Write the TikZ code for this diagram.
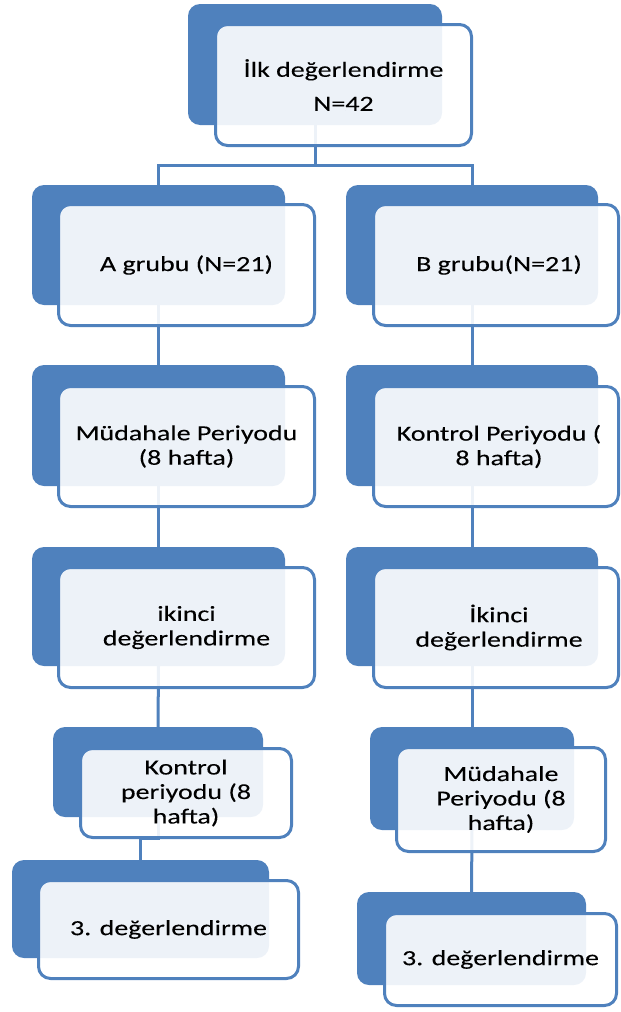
\documentclass[tikz,border=0pt]{standalone}
\usepackage{fontspec}
\setmainfont{Carlito}[FakeStretch=1.3,FakeBold=0.12]
\pgfdeclarelayer{background}
\pgfsetlayers{background,main}
\definecolor{myblue}{RGB}{79,129,189}
\begin{document}
\begin{tikzpicture}[x=1pt,y=-1pt,
  backbox/.style={fill=myblue, draw=none, rounded corners=12pt, inner sep=0pt, outer sep=0pt, anchor=north west},
  frontbox/.style={draw=myblue, line width=3pt, fill=white, fill opacity=0.9, text opacity=1, draw opacity=1,
    rounded corners=12pt, inner sep=0pt, outer sep=0pt, anchor=north west, align=center,
    font=\fontsize{21.5}{24.5}\selectfont, text=black},
  conn/.style={draw=myblue, line width=3pt}]
\useasboundingbox (0,0) rectangle (621,1012);
% back rectangles
\node[backbox, minimum width=254pt, minimum height=121pt] (tb) at (188,4) {};
\node[backbox, minimum width=253pt, minimum height=120pt] (ab) at (32,185) {};
\node[backbox, minimum width=252pt, minimum height=120pt] (bb) at (346,185) {};
\node[backbox, minimum width=253pt, minimum height=121pt] (r3lb) at (32,365) {};
\node[backbox, minimum width=252pt, minimum height=121pt] (r3rb) at (346,365) {};
\node[backbox, minimum width=253pt, minimum height=119pt] (r4lb) at (32,547) {};
\node[backbox, minimum width=252pt, minimum height=119pt] (r4rb) at (346,547) {};
\node[backbox, minimum width=210pt, minimum height=90pt] (r5lb) at (53,727) {};
\node[backbox, minimum width=204pt, minimum height=103pt] (r5rb) at (370,727) {};
\node[backbox, minimum width=257pt, minimum height=98pt] (r6lb) at (12,860) {};
\node[backbox, minimum width=229pt, minimum height=93pt] (r6rb) at (357,892) {};
% front boxes
\node[frontbox, minimum width=256pt, minimum height=121pt] (t) at (215.5,24.5) {İlk değerlendirme\\[9.5pt]N=42};
\node[frontbox, minimum width=256pt, minimum height=121pt] (a) at (58.5,204.5) {A grubu (N=21)};
\node[frontbox, minimum width=245pt, minimum height=121pt] (b) at (373.5,204.5) {\hspace*{6pt}B grubu(N=21)};
\node[frontbox, minimum width=256pt, minimum height=120pt] (r3l) at (58.5,386.5) {Müdahale Periyodu\\(8 hafta)};
\node[frontbox, minimum width=245pt, minimum height=120pt] (r3r) at (373.5,386.5) {\hspace*{6pt}Kontrol Periyodu (\\\hspace*{6pt}8 hafta)};
\node[frontbox, minimum width=256pt, minimum height=120pt] (r4l) at (58.5,567.5) {ikinci\\değerlendirme};
\node[frontbox, minimum width=245pt, minimum height=120pt] (r4r) at (373.5,567.5) {\hspace*{6pt}İkinci\\\hspace*{6pt}değerlendirme};
\node[frontbox, minimum width=211pt, minimum height=89pt] (r5l) at (80.5,748.5) {Kontrol\\periyodu (8\\hafta)};
\node[frontbox, minimum width=209pt, minimum height=104pt] (r5r) at (396.5,747.5) {Müdahale\\Periyodu (8\\hafta)};
\node[frontbox, minimum width=260pt, minimum height=98pt] (r6l) at (38.5,880.5) {3. değerlendirme};
\node[frontbox, minimum width=232pt, minimum height=92pt] (r6r) at (384.5,913.5) {3. değerlendirme};
% connectors
\begin{pgfonlayer}{background}
\coordinate (j) at (315,165);
\draw[conn] (tb.south) -- (j);
\draw[conn] (ab.north) |- (j) -| (bb.north);
\draw[conn] (ab.south) -- (r3lb.north);
\draw[conn] (bb.south) -- (r3rb.north);
\draw[conn] (r3lb.south) -- (r4lb.north);
\draw[conn] (r3rb.south) -- (r4rb.north);
\draw[conn] (r4lb.south) -- (r5lb.north);
\draw[conn] (r4rb.south) -- (r5rb.north);
\draw[conn] (r5lb.south) -- ++(0,21) -| (r6lb.north);
\draw[conn] (r5rb.south) -- (r6rb.north);
\end{pgfonlayer}
\end{tikzpicture}
\end{document}
